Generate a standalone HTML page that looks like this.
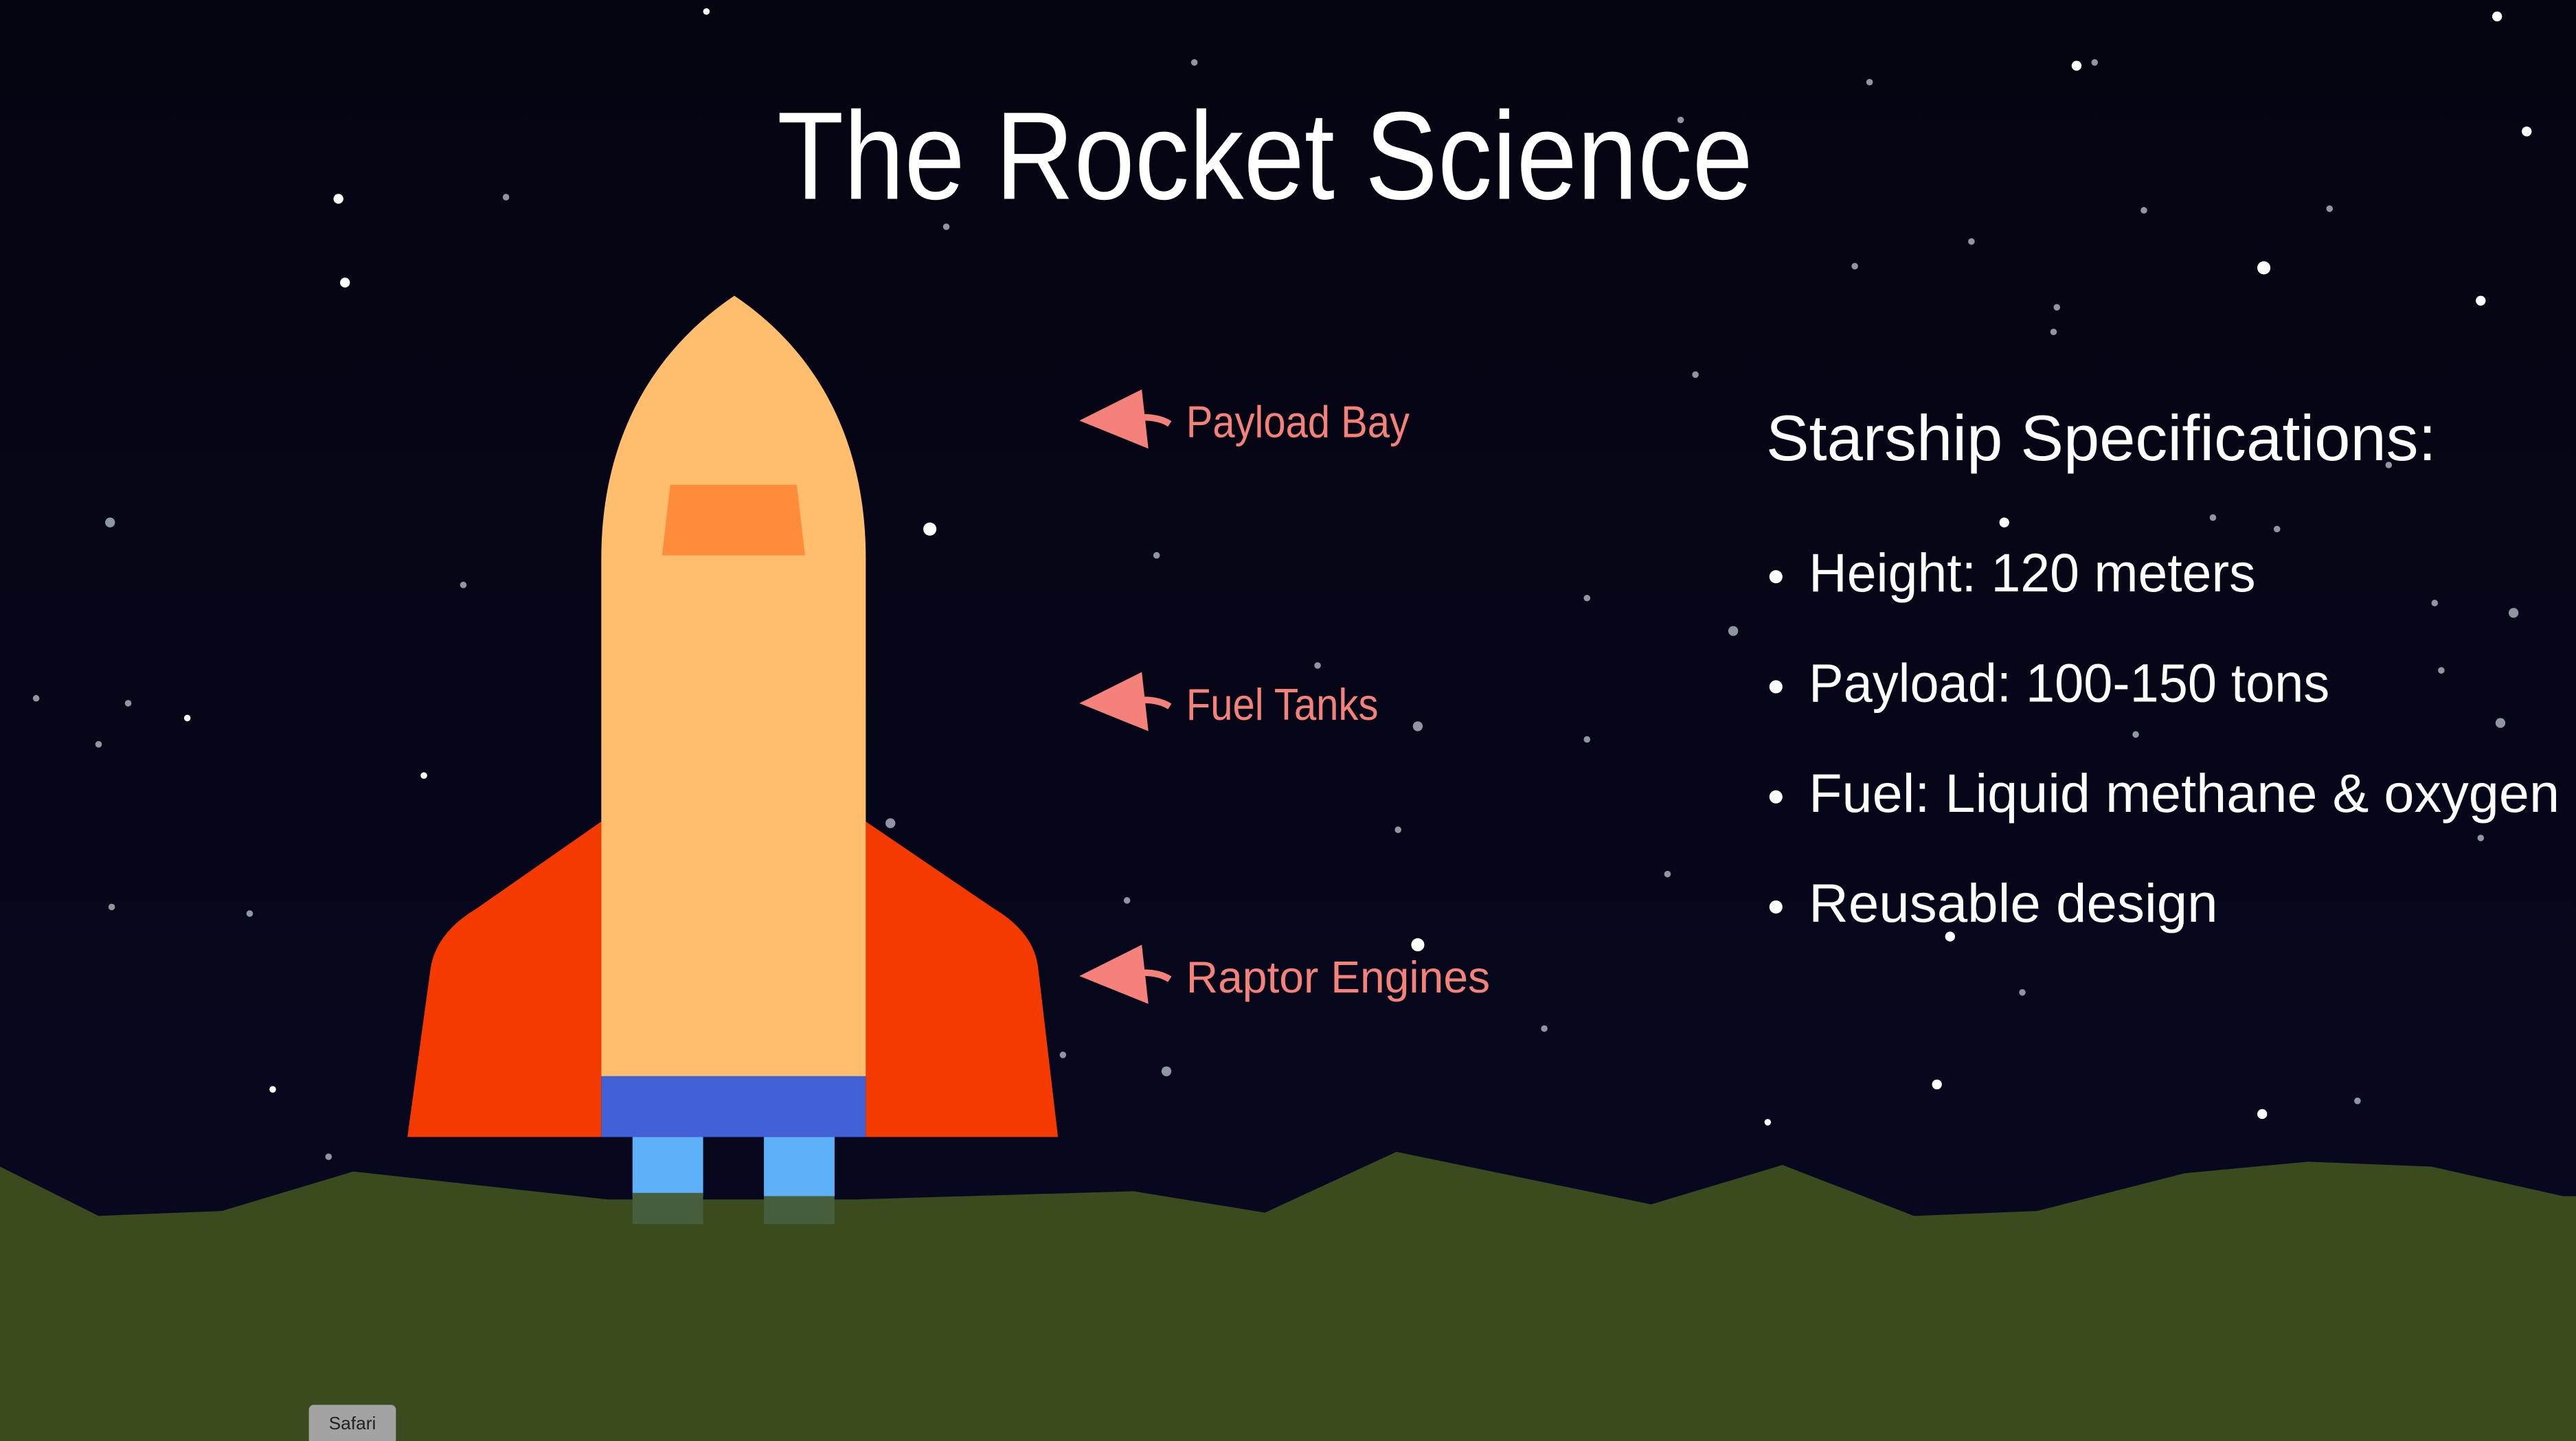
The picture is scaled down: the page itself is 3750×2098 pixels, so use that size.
<!DOCTYPE html>
<html><head><meta charset="utf-8"><style>
html,body{margin:0;padding:0;background:#05050f;}
svg{display:block;}
text{font-family:"Liberation Sans","DejaVu Sans",sans-serif;}
</style></head><body>
<svg width="3750" height="2098" viewBox="0 0 1568 877" preserveAspectRatio="none" xmlns="http://www.w3.org/2000/svg">
<defs>
<linearGradient id="bg" x1="0" y1="0" x2="0" y2="1">
<stop offset="0" stop-color="#040410"/><stop offset="1" stop-color="#080822"/>
</linearGradient>
</defs>
<rect width="1568" height="877" fill="url(#bg)"/>
<g fill="#ffffff">
<circle cx="206" cy="121" r="3"/><circle cx="210" cy="172" r="3"/><circle cx="566" cy="322" r="4"/>
<circle cx="1378" cy="163" r="4"/><circle cx="1510" cy="183" r="3"/><circle cx="1538" cy="80" r="3"/>
<circle cx="1520" cy="10" r="3"/><circle cx="1264" cy="40" r="3"/><circle cx="863" cy="575" r="4"/>
<circle cx="1187" cy="570" r="3"/><circle cx="1220" cy="318" r="3"/><circle cx="1179" cy="660" r="3"/>
<circle cx="1377" cy="678" r="3"/><circle cx="1076" cy="683" r="2"/><circle cx="166" cy="663" r="2"/>
<circle cx="258" cy="472" r="2"/><circle cx="114" cy="437" r="2"/><circle cx="430" cy="7" r="2"/>
</g>
<g fill="#8f96a0">
<circle cx="67" cy="318" r="3"/><circle cx="863" cy="442" r="3"/><circle cx="542" cy="501" r="3"/>
<circle cx="710" cy="652" r="3"/><circle cx="1055" cy="384" r="3"/><circle cx="1530" cy="373" r="3"/>
<circle cx="1522" cy="440" r="3"/><circle cx="1275" cy="38" r="2"/><circle cx="1347" cy="315" r="2"/>
<circle cx="704" cy="338" r="2"/><circle cx="686" cy="548" r="2"/><circle cx="966" cy="364" r="2"/>
<circle cx="966" cy="450" r="2"/><circle cx="1300" cy="447" r="2"/><circle cx="1510" cy="510" r="2"/>
<circle cx="1435" cy="670" r="2"/><circle cx="78" cy="428" r="2"/><circle cx="22" cy="425" r="2"/>
<circle cx="308" cy="120" r="2"/><circle cx="576" cy="138" r="2"/><circle cx="1129" cy="162" r="2"/>
<circle cx="1305" cy="128" r="2"/><circle cx="1486" cy="408" r="2"/><circle cx="1386" cy="322" r="2"/>
<circle cx="1252" cy="187" r="2"/><circle cx="1250" cy="202" r="2"/><circle cx="940" cy="626" r="2"/>
<circle cx="647" cy="642" r="2"/><circle cx="802" cy="405" r="2"/><circle cx="851" cy="505" r="2"/>
<circle cx="1015" cy="532" r="2"/><circle cx="1231" cy="604" r="2"/><circle cx="1138" cy="50" r="2"/>
<circle cx="60" cy="453" r="2"/><circle cx="68" cy="552" r="2"/><circle cx="727" cy="38" r="2"/>
<circle cx="1023" cy="73" r="2"/><circle cx="1200" cy="147" r="2"/><circle cx="1418" cy="127" r="2"/>
<circle cx="1032" cy="228" r="2"/><circle cx="282" cy="356" r="2"/><circle cx="152" cy="556" r="2"/>
<circle cx="200" cy="704" r="2"/><circle cx="1454" cy="283" r="2"/><circle cx="1482" cy="367" r="2"/>
</g>
<polygon fill="#3a4b1e" points="0,710 60,740 135,737 215,713 370,730 520,730 690,725 770,738 850,701 1005,733 1085,709 1165,740 1240,737 1330,714 1405,707 1480,710 1560,728 1568,728 1568,877 0,877"/>
<!-- rocket -->
<path fill="#f53a00" d="M366,500 L290,553 Q265,568 262,590 L248,692 L366,692 Z"/>
<path fill="#f53a00" d="M527,500 L605,553 Q630,568 632,590 L644,692 L527,692 Z"/>
<path fill="#ffbd6e" d="M366,340 C366,270 395,215 447,180 C499,215 527,270 527,340 L527,655 L366,655 Z"/>
<polygon fill="#ff8c3a" points="408,295 485,295 490,338 403,338"/>
<rect x="366" y="655" width="161" height="37" fill="#4361d6"/>
<rect x="385" y="692" width="43" height="36" fill="#5eb0f8"/>
<rect x="465" y="692" width="43" height="36" fill="#5eb0f8"/>
<rect x="385" y="726" width="43" height="19" fill="#465e3c"/>
<rect x="465" y="728" width="43" height="17" fill="#465e3c"/>
<!-- arrows -->
<g fill="#f5827a" stroke="#f5827a">
<polygon stroke="none" points="657,256 695,237 699,273"/>
<path fill="none" stroke-width="4" d="M696,254 Q706,254 712,258"/>
<polygon stroke="none" points="657,428 695,409 699,445"/>
<path fill="none" stroke-width="4" d="M696,426 Q706,426 712,430"/>
<polygon stroke="none" points="657,594 695,575 699,611"/>
<path fill="none" stroke-width="4" d="M696,592 Q706,592 712,596"/>
</g>
<g fill="#f5827a" font-size="27">
<text x="722" y="266" textLength="136" lengthAdjust="spacingAndGlyphs">Payload Bay</text>
<text x="722" y="438" textLength="117" lengthAdjust="spacingAndGlyphs">Fuel Tanks</text>
<text x="722" y="604" textLength="185" lengthAdjust="spacingAndGlyphs">Raptor Engines</text>
</g>
<text x="473" y="121" font-size="76" fill="#fff" textLength="594" lengthAdjust="spacingAndGlyphs">The Rocket Science</text>
<g fill="#fff">
<text x="1075" y="280" font-size="39" textLength="408" lengthAdjust="spacingAndGlyphs">Starship Specifications:</text>
<circle cx="1081" cy="351" r="4"/><circle cx="1081" cy="418" r="4"/><circle cx="1081" cy="485" r="4"/><circle cx="1081" cy="552" r="4"/>
<g font-size="33">
<text x="1101" y="360" textLength="272" lengthAdjust="spacingAndGlyphs">Height: 120 meters</text>
<text x="1101" y="427" textLength="317" lengthAdjust="spacingAndGlyphs">Payload: 100-150 tons</text>
<text x="1101" y="494" textLength="457" lengthAdjust="spacingAndGlyphs">Fuel: Liquid methane &amp; oxygen</text>
<text x="1101" y="561" textLength="249" lengthAdjust="spacingAndGlyphs">Reusable design</text>
</g>
</g>
<rect x="188" y="855" width="53" height="24" rx="3" fill="#a3a3a3"/>
<text x="214.5" y="870" font-size="11" fill="#222" text-anchor="middle">Safari</text>
</svg>
</body></html>
